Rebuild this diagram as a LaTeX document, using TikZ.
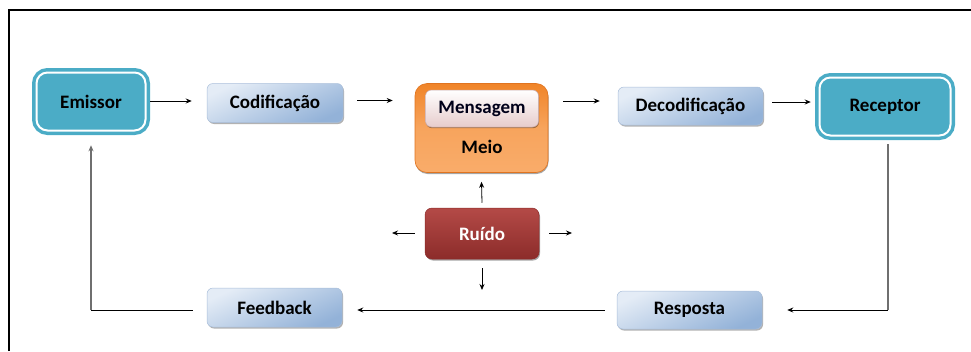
\documentclass[tikz,border=0pt]{standalone}
\usepackage{fontspec}
\setmainfont{Carlito}
\usetikzlibrary{shadows,arrows.meta}
\definecolor{tealc}{HTML}{4BACC6}
\definecolor{blueL}{HTML}{E4ECF6}
\definecolor{blueD}{HTML}{93B2D8}
\definecolor{blueB}{HTML}{A9BEDA}
\definecolor{oraT}{HTML}{F08428}
\definecolor{oraB}{HTML}{F9AC6A}
\definecolor{oraE}{HTML}{E07420}
\definecolor{mesT}{HTML}{FFFFFF}
\definecolor{mesB}{HTML}{E7CCCC}
\definecolor{mesE}{HTML}{C9A9A9}
\definecolor{redT}{HTML}{B44A47}
\definecolor{redB}{HTML}{8C2C2A}
\definecolor{lineg}{HTML}{6F6F6F}
\begin{document}
\begin{tikzpicture}[x=1pt,y=-1pt,
  base/.style={font=\bfseries\fontsize{19}{21}\selectfont, inner sep=0pt, align=center},
  tealbox/.style={base, draw=tealc, double=white, double distance=2pt, line width=3.5pt,
    fill=tealc, rounded corners=11pt},
  bluebox/.style={base, rounded corners=6pt, top color=blueL, bottom color=blueD, shading angle=25,
    draw=blueB, line width=0.5pt,
    drop shadow={shadow xshift=1pt, shadow yshift=-1.5pt, opacity=0.3, fill=black}},
  meiobox/.style={rounded corners=12pt, top color=oraT, bottom color=oraB, middle color=oraB!80!oraT,
    draw=oraE, line width=0.6pt, minimum width=133pt, minimum height=89pt,
    drop shadow={shadow xshift=0.5pt, shadow yshift=-1.5pt, opacity=0.35, fill=black}},
  mesbox/.style={base, rounded corners=6pt, top color=mesT, bottom color=mesB, draw=mesE, line width=0.5pt,
    minimum width=113pt, minimum height=37pt, text=black!90!blue,
    drop shadow={shadow xshift=0.5pt, shadow yshift=-1.2pt, opacity=0.35, fill=black}},
  ruibox/.style={base, rounded corners=7pt, top color=redT, bottom color=redB, draw=redB, line width=0.5pt,
    minimum width=114pt, minimum height=51pt, text=white,
    drop shadow={shadow xshift=1pt, shadow yshift=-1.5pt, opacity=0.35, fill=black}},
  lbl/.style={base},
  arr/.style={-{Stealth[length=6pt,width=5pt]}, line width=0.8pt},
  gline/.style={draw=lineg, line width=1.4pt}
]
\useasboundingbox (0,0) rectangle (971,351);
\draw[line width=1.5pt] (9,351) -- (9,10) -- (971,10);

% nodes
\node[tealbox, minimum width=109pt, minimum height=58pt] (emi) at (91,101.5) {Emissor};
\node[bluebox, minimum width=136pt, minimum height=39pt] (cod) at (275,103) {Codifica\c{c}\~ao};
\node[meiobox] (meio) at (481.5,128) {};
\node[mesbox] (mes) at (482,108.5) {Mensagem};
\node[lbl] (meiol) at (482,147) {Meio};
\node[bluebox, minimum width=145pt, minimum height=38pt] (dec) at (690.5,106) {Decodifica\c{c}\~ao};
\node[tealbox, minimum width=131pt, minimum height=58pt] (rec) at (885,106.5) {Receptor};
\node[bluebox, minimum width=145pt, minimum height=38pt] (res) at (689.5,310) {Resposta};
\node[bluebox, minimum width=135pt, minimum height=39pt] (fb) at (274.5,307.5) {Feedback};
\node[ruibox] (rui) at (482,233.5) {Ru\'ido};

% top row arrows
\draw[arr] ([xshift=3pt]emi.east |- 0,101) -- ([xshift=-15pt]cod.west |- 0,101);
\draw[arr] ([xshift=14pt]cod.east |- 0,100.5) -- ([xshift=-22pt]meio.west |- 0,100.5);
\draw[arr] ([xshift=15pt]meio.east |- 0,101) -- ([xshift=-18pt]dec.west |- 0,101);
\draw[arr] ([xshift=9pt]dec.east |- 0,102) -- ([xshift=-7pt]rec.west |- 0,102);

% feedback loop
\coordinate (rc) at (888,310);
\coordinate (fc) at (91,310);
\draw[gline] ([xshift=3pt,yshift=-7pt]rec.south) -- (rc);
\draw[arr] (rc) -- ([xshift=25pt]res.east |- rc);
\draw[arr] ([xshift=-12pt]res.west |- rc) -- ([xshift=15pt]fb.east |- rc);
\draw[line width=0.8pt] ([xshift=-14pt]fb.west |- fc) -- (fc);
\draw[arr, gline] (fc) -- ([yshift=-13pt]emi.south);

% noise arrows
\coordinate (nl) at (392,233);
\coordinate (nr) at (572,233);
\coordinate (nd) at (482,290);
\draw[arr] ([yshift=5pt]rui.north) -- ([yshift=-9pt]meio.south);
\draw[arr] ([xshift=-10pt]rui.west |- nl) -- (nl);
\draw[arr] ([xshift=10pt]rui.east |- nr) -- (nr);
\draw[arr] ([yshift=-9pt]rui.south) -- (nd);
\end{tikzpicture}
\end{document}
